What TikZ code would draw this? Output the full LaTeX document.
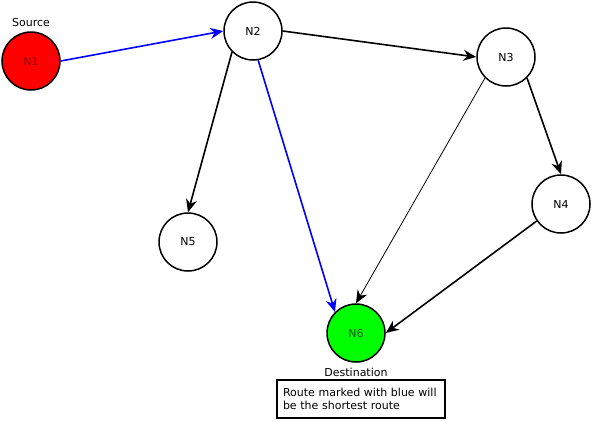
\documentclass[tikz,border=0pt]{standalone}
\usepackage{fontspec}
\setmainfont{DejaVu Sans}
\usetikzlibrary{arrows.meta}
\tikzset{
VERTEX/.style={circle, draw=black, line width=1.5pt, minimum size=58pt, inner sep=0pt, fill=#1, font=\fontsize{11}{13}\selectfont},
VERTEX/.default = white,
EDGE/.style ={draw=black, line width=1.6pt, -{Stealth[length=13pt,width=11pt]}},
THINEDGE/.style ={EDGE, line width=0.8pt},
BLUEEDGE/.style ={EDGE, draw=blue},
TEXTLABEL/.style={font=\fontsize{11}{13}\selectfont},
}

\begin{document}
\begin{tikzpicture}
[x=1pt, y=-1pt]
	\useasboundingbox (0,0) rectangle (593,421);
	\node[VERTEX=red, text=red!55!black] (N1) at (31,61) {N1};
	\node[VERTEX] (N2) at (253,31) {N2};
	\node[VERTEX] (N3) at (506,57) {N3};
	\node[VERTEX] (N4) at (561,204) {N4};
	\node[VERTEX] (N5) at (188,242) {N5};
	\node[VERTEX=green, text=green!35!black] (N6) at (356,333) {N6};
	\node[TEXTLABEL] (SRC) at (31,22) {Source};
	\node[TEXTLABEL] (DST) at (356,372) {Destination};
	\node[TEXTLABEL, draw=black, line width=1.5pt, text width=156pt, inner xsep=6pt, inner ysep=4pt, minimum height=38pt, align=left] (NOTE) at (361,399) {Route marked with blue will\\be the shortest route};
	\draw[BLUEEDGE] (N1.east) -- (N2.west);
	\draw[BLUEEDGE] (N2.-80) -- (N6.north west);
	\draw[EDGE] (N2.east) -- (N3.west);
	\draw[EDGE] (N2.south west) -- (N5.north);
	\draw[EDGE] (N3.south east) -- (N4.north);
	\draw[EDGE] (N4.215) -- (N6.east);
	\draw[THINEDGE] (N3.south west) -- (N6.north);
\end{tikzpicture}
\end{document}
